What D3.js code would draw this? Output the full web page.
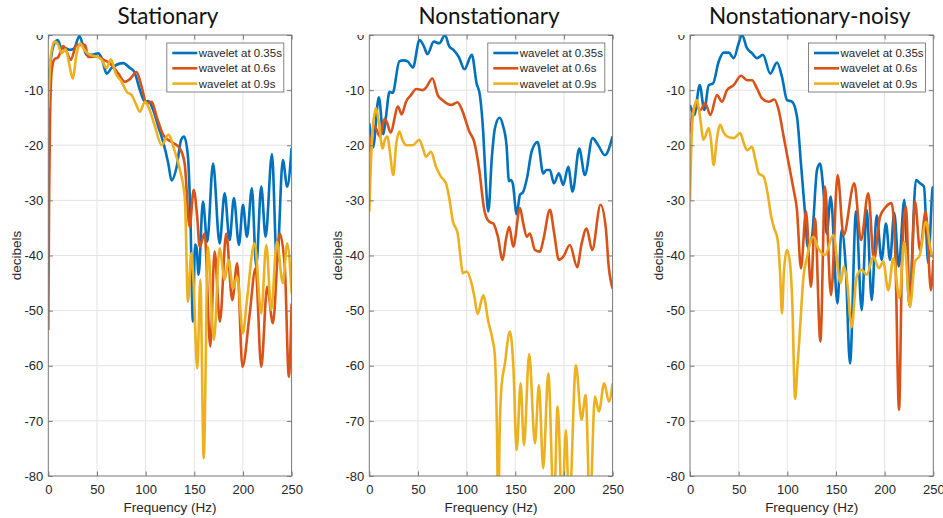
<!DOCTYPE html>
<html>
<head>
<meta charset="utf-8">
<script src="https://cdn.jsdelivr.net/npm/d3@7"></script>
<style>
  body { margin: 0; background: #fff; }
  svg { display: block; }
</style>
</head>
<body>
<div id="chart"></div>
<script>
// values: [frequency Hz, decibels]
const statBlue = [[0,-8.2],[5,-2.1],[9.6,-0.9],[13.7,-2.4],[17.8,-2.4],[22.3,-2.7],[26.7,-2.4],[31.9,-0.2],[36,-2.1],[39.4,-3.6],[44.6,-3.6],[51.4,-3.3],[54.8,-4.2],[60,-7],[65,-6],[77,-5.1],[83.9,-6],[88.4,-6.7],[94.2,-10],[99.3,-12.1],[102.7,-12],[107.8,-13.6],[113,-16.6],[118,-19.4],[123.3,-23.3],[126.7,-26.4],[131.9,-23.9],[136.5,-19],[139.5,-18.4],[143.5,-22],[146,-33],[148.6,-52],[150.8,-38],[152.3,-38.5],[154.4,-43.5],[158.9,-30.2],[163.3,-37.5],[169.3,-23.3],[176,-37.8],[181.2,-28.7],[186.3,-37.2],[190.7,-29.6],[195.9,-38.1],[200,-30.8],[204.1,-36.6],[209.2,-27.8],[213.6,-42],[218.8,-27.5],[223.3,-36.6],[229.8,-21.6],[234.9,-41.5],[241,-22.7],[245.5,-27.5],[250,-20.5]];
const statRed = [[0,-53.5],[0.8,-30],[1.8,-15],[3.5,-6.5],[6.2,-4.4],[10.3,-4.0],[15.4,-2.0],[18.8,-3],[23,-4.5],[29.2,-1.8],[37.7,-1.8],[41,-4],[49.7,-3.9],[57,-4.5],[65,-5.4],[71.9,-7],[78.8,-8.5],[83.9,-8],[90.8,-6.7],[95.9,-9.4],[101,-12.4],[106.2,-12.1],[111.3,-14.8],[118.1,-18.1],[123,-19],[128.4,-19.6],[135.3,-20.6],[140.1,-23.3],[145.2,-34.8],[149.4,-28.1],[153,-33],[155.5,-38.4],[160.6,-36],[166.4,-56.5],[170.9,-39.3],[176.3,-52],[182.8,-36],[189,-48.1],[194.1,-41.4],[199.5,-60.2],[206.8,-50.8],[213,-42.3],[218.8,-60.2],[224.9,-45.7],[230.8,-52.3],[237.7,-36],[243,-42],[247.2,-62],[250,-48.7]];
const statYellow = [[0,-13.3],[2.5,-4],[6.2,-1.2],[10.3,-1.8],[13.7,-3.3],[17.8,-2.6],[21.3,-5.1],[25,-7.9],[29.2,-3.3],[32.6,-1.5],[37,-2.7],[42.8,-3.6],[49.7,-3.9],[54.8,-4.5],[60,-6],[64.4,-4.4],[69.2,-7],[75.4,-8.5],[80.5,-10.3],[85.6,-10.9],[90,-12.5],[94.2,-13.9],[99.3,-12.1],[104,-13.5],[109.6,-16.6],[116.5,-20],[123.3,-18.1],[130.1,-21.2],[135.3,-24.5],[140.4,-29.9],[143.5,-48.4],[146.9,-39.6],[149,-44],[153.1,-60.5],[156.2,-44.4],[159.7,-76.8],[164,-38.4],[170.2,-55.3],[176,-38.7],[181.2,-44.4],[185.3,-40.8],[189.7,-46],[194.1,-43.8],[200,-54.1],[204.1,-48.1],[212,-37.8],[218.8,-50.5],[224,-38.1],[229,-49.9],[234.9,-37.5],[241,-45],[245.5,-37.8],[250,-46.9]];

const nonBlue = [[0,-16],[3.8,-20.4],[9.8,-11.3],[14.4,-18],[17,-15],[20.8,-10.3],[24,-10.5],[30.8,-4.8],[35,-4.6],[39.4,-4.8],[44.8,-5.9],[51.6,-0.9],[56,-2],[59.8,-3.5],[66.2,-1.2],[71.9,-1.5],[77.8,0],[82,-2],[86.5,-2.7],[92,-4],[97.8,-6.2],[105.3,-3.6],[110.3,-8.8],[113.7,-11],[117.1,-17.8],[119.5,-26],[122.3,-32],[126,-22],[129,-17],[133.8,-15],[137.5,-16.5],[141,-20],[143.5,-26.5],[145.5,-26.3],[147.5,-27],[151.4,-32.5],[154.8,-29],[158,-28.5],[162,-26],[167,-21],[173,-19.4],[178.7,-25.1],[182,-24.5],[185.6,-24.5],[189.7,-26.9],[194.8,-25.1],[199.3,-27.2],[204.4,-23.9],[208.9,-28.4],[215.7,-20.6],[221.5,-25.4],[229.4,-18.7],[235.2,-20],[242.1,-21.8],[250,-18.4]];
const nonRed = [[0,-21.2],[5.5,-16.6],[11,-18.4],[15.8,-15.2],[18.5,-16],[21.8,-17.7],[29.5,-13],[33.3,-14.4],[37.7,-12.1],[42.8,-10.9],[48.4,-9.8],[54.8,-10],[58,-9.6],[64.8,-7.9],[70.3,-10.9],[75,-11.8],[84.3,-12.7],[90.6,-12.2],[95.9,-13.9],[102.7,-17.5],[107.8,-19.4],[113,-24.5],[118.1,-31.7],[123.3,-33.9],[127.4,-34.2],[132,-36.5],[137,-40.8],[140.5,-37],[143.8,-34.8],[147.9,-38.4],[154.8,-31.4],[158,-34],[161.7,-36.6],[165,-36],[170.2,-39],[175.3,-39.3],[179,-37],[185.6,-31.7],[190,-36],[194.8,-40.8],[199.3,-40.2],[206.1,-38.1],[213.6,-42.1],[218,-38],[223.3,-35.1],[229,-39],[237.6,-30.8],[243,-35],[246,-42],[250,-46]];
const nonYellow = [[0,-32],[1.5,-24],[3.5,-17],[6.9,-13.3],[9.5,-15.5],[13.7,-20.6],[16,-19],[18.8,-18.4],[21,-21],[24.7,-25.4],[27.5,-20],[30.8,-17.5],[34,-19],[37.7,-20],[44.6,-20],[51.4,-19],[55,-20.5],[58.2,-22.1],[63.4,-21.2],[68.5,-23.9],[73.6,-25.7],[78.8,-26.9],[82.5,-30],[85.6,-33.6],[90.8,-36],[93.5,-40],[95.9,-43.2],[100,-42.9],[105,-45],[108,-47.5],[111.3,-50.6],[117.1,-47.2],[122.3,-52],[126.7,-55.3],[129,-58],[131,-70],[132.5,-86],[134.2,-70],[136,-63.5],[139,-60],[144.5,-53.8],[148,-60],[151.4,-75.3],[155.5,-63.2],[158.9,-74.4],[164.3,-57.9],[170.2,-74.1],[174.3,-63.5],[178.7,-78.6],[183.9,-61.4],[189.7,-86],[193.5,-67.4],[198.2,-86],[202,-71.7],[205.4,-86],[212.3,-59.9],[218.1,-69.8],[222.3,-65.3],[226.7,-86],[231.8,-65.6],[235.9,-68.3],[241.4,-63.2],[246.2,-66.5],[250,-63.2]];

const noisyBlue = [[0,-12.7],[4.4,-14.5],[10,-9.1],[14.7,-13.6],[19.2,-9.1],[23.6,-8.8],[29.5,-4.8],[34.6,-3.2],[39.8,-3.2],[44.9,-4.2],[50,-1.5],[53.4,0],[58.6,-2.4],[63.7,-3.3],[68.8,-4.2],[75,-3.6],[82.5,-7],[89.4,-5],[94.5,-7.6],[99.7,-11.8],[104.8,-12.1],[109.9,-14.8],[114,-23.3],[118.5,-33],[120.9,-38.4],[125.3,-36.6],[130.5,-24.5],[133.6,-23.3],[137,-28],[140.5,-36],[144.6,-29.3],[151.5,-48.7],[155.8,-35.4],[160,-42],[164.4,-59.6],[170.6,-32],[176.4,-49.9],[181.6,-31.7],[186.7,-48.1],[191.8,-32.7],[196.9,-40.8],[201.4,-34.2],[205.5,-40.8],[209.9,-32.3],[214.5,-42],[220.2,-29.9],[225.3,-49],[232.2,-26.3],[236.3,-26.9],[240.4,-27.5],[244.8,-41.4],[249.3,-27.8],[250,-27.5]];
const noisyRed = [[0,-17.8],[5.4,-12.7],[10.6,-13.6],[15.7,-12.4],[20.9,-14.5],[27.7,-10.9],[32.9,-12.1],[38,-10],[44.9,-9.1],[52.4,-7.4],[58.6,-8.2],[63.7,-8.2],[68.8,-9.7],[74,-11.5],[80.9,-12.1],[86.6,-11.7],[91.1,-13.6],[96.2,-18.4],[101.4,-23.3],[106.5,-28.1],[109.9,-31.7],[114,-42.3],[119.2,-32],[124.3,-45.7],[128.4,-33.3],[134,-55.6],[138.7,-27.5],[144.9,-47.2],[151.7,-25.4],[157.8,-36.3],[168.8,-26.9],[175.7,-37.2],[183.2,-28.7],[189,-40.8],[195.2,-33],[200.3,-31.4],[207.2,-30.5],[211,-40],[214.8,-68],[218,-40],[221.9,-31.1],[226,-49.3],[231.2,-30.2],[236.3,-39],[242.2,-32],[247.6,-46.3],[250,-40.8]];
const noisyYellow = [[0,-29.9],[2,-17.2],[4.5,-13],[7.2,-11.8],[10,-14.5],[14,-19],[19.2,-16.9],[21.5,-19],[24.3,-23.6],[27.5,-19],[31.1,-16.3],[34,-17.5],[38,-18.4],[44.9,-18.7],[51.7,-17.8],[55,-19.5],[58.6,-20.9],[63.7,-20.3],[67,-22.5],[70.6,-25.1],[75.7,-25.7],[80,-29],[83,-32.5],[86,-34.8],[90.1,-37.2],[92.5,-43],[94.5,-50.5],[96.5,-43],[99.5,-39],[102.5,-41],[105,-48],[108,-66],[110.5,-60],[113,-53.5],[116.5,-44],[120,-40.5],[126.7,-36.6],[131.8,-38.7],[138.7,-39.9],[147.2,-36.3],[154.8,-45],[158,-42],[161,-44],[166.1,-53],[171.3,-43.8],[176.4,-42.6],[181.6,-43.5],[188.3,-40.2],[194.2,-42.3],[198.6,-41.1],[203.7,-46.3],[208.9,-40.5],[215.1,-47.7],[220.2,-37.5],[226,-49.3],[231.2,-41.1],[236,-40],[242.5,-33.9],[247.3,-39],[250,-40.5]];

const titles = ["Stationary", "Nonstationary", "Nonstationary-noisy"];
const seriesNames = ["wavelet at 0.35s", "wavelet at 0.6s", "wavelet at 0.9s"];
const colors = ["#0072BD", "#D95319", "#EDB120"];
const xTicks = [0, 50, 100, 150, 200, 250];
const yTicks = [0, -10, -20, -30, -40, -50, -60, -70, -80];

const panels = [
  { title: titles[0], series: [statBlue, statRed, statYellow] },
  { title: titles[1], series: [nonBlue, nonRed, nonYellow] },
  { title: titles[2], series: [noisyBlue, noisyRed, noisyYellow] }
];

var W = 943, H = 518,
  panelLeft = [48.3, 369.3, 690],
  plotTop = 35,
  pw = 243.3,
  ph = 441;

var svg = d3.select("#chart").append("svg")
  .attr("width", W)
  .attr("height", H);

var x = d3.scaleLinear().domain([0, 250]).range([0, pw]);
var y = d3.scaleLinear().domain([-80, 0]).range([ph, 0]);
var line = d3.line()
  .x(d => x(d[0]))
  .y(d => y(d[1]))
  .curve(d3.curveMonotoneX);

// layers: under the white title band, the band, above it
var base = svg.append("g");
var band = svg.append("rect").attr("x", 0).attr("y", 0).attr("width", W).attr("height", plotTop).attr("fill", "#fff");
var over = svg.append("g");

panels.forEach((p, i) => {
  var g = base.append("g").attr("transform", `translate(${panelLeft[i]},${plotTop})`);

  g.append("clipPath").attr("id", "clip" + i)
    .append("rect").attr("width", pw).attr("height", ph);

  // grid
  g.append("g").selectAll("line").data(xTicks.slice(1, -1)).enter().append("line")
    .attr("x1", d => x(d)).attr("x2", d => x(d)).attr("y1", 0).attr("y2", ph)
    .attr("stroke", "#e3e3e3").attr("stroke-width", 1);
  g.append("g").selectAll("line").data(yTicks.slice(1, -1)).enter().append("line")
    .attr("y1", d => y(d)).attr("y2", d => y(d)).attr("x1", 0).attr("x2", pw)
    .attr("stroke", "#e3e3e3").attr("stroke-width", 1);

  // curves
  g.append("g").attr("clip-path", `url(#clip${i})`)
    .selectAll("path").data(p.series).enter().append("path")
    .attr("d", line)
    .attr("fill", "none")
    .attr("stroke", (d, k) => colors[k])
    .attr("stroke-width", 2.6)
    .attr("stroke-linejoin", "round");

  // axes, ticks pointing inward
  var axL = g.append("g").call(d3.axisLeft(y).tickValues(yTicks).tickSizeInner(-4.5).tickSizeOuter(0).tickPadding(5).tickFormat(d => String(d)));
  var axB = g.append("g").attr("transform", `translate(0,${ph})`)
    .call(d3.axisBottom(x).tickValues(xTicks).tickSizeInner(-4.5).tickSizeOuter(0).tickPadding(8.5).tickFormat(d => String(d)));
  var axR = g.append("g").attr("transform", `translate(${pw},0)`)
    .call(d3.axisRight(y).tickValues(yTicks).tickSizeInner(-4.5).tickSizeOuter(0).tickFormat(""));
  var axT = g.append("g")
    .call(d3.axisTop(x).tickValues(xTicks).tickSizeInner(-4.5).tickSizeOuter(0).tickFormat(""));
  [axL, axB, axR, axT].forEach(a => {
    a.select(".domain").remove();
    a.selectAll(".tick line").attr("stroke", "#777");
    a.selectAll("text").attr("fill", "#262626")
      .style("font-family", "'Liberation Sans', Arial, sans-serif")
      .style("font-size", "13px");
  });

  // axis labels
  g.append("text")
    .attr("x", pw / 2).attr("y", ph + 36)
    .attr("text-anchor", "middle")
    .attr("fill", "#262626")
    .style("font-family", "'Liberation Sans', Arial, sans-serif")
    .style("font-size", "13.5px")
    .text("Frequency (Hz)");
  g.append("text")
    .attr("transform", `translate(-27,${ph / 2}) rotate(-90)`)
    .attr("text-anchor", "middle")
    .attr("fill", "#262626")
    .style("font-family", "'Liberation Sans', Arial, sans-serif")
    .style("font-size", "13.5px")
    .text("decibels");

  // frame, legend and title above the band
  var o = over.append("g").attr("transform", `translate(${panelLeft[i]},${plotTop})`);
  o.append("rect").attr("width", pw).attr("height", ph)
    .attr("fill", "none").attr("stroke", "#777").attr("stroke-width", 1);

  var lg = o.append("g").attr("transform", "translate(118.5,8)");
  lg.append("rect").attr("width", 117).attr("height", 49)
    .attr("fill", "#fff").attr("stroke", "#777").attr("stroke-width", 0.9);
  seriesNames.forEach((name, k) => {
    var ry = 10 + k * 15.3;
    lg.append("line").attr("x1", 5.5).attr("x2", 30.5).attr("y1", ry).attr("y2", ry)
      .attr("stroke", colors[k]).attr("stroke-width", 2.6);
    lg.append("text").attr("x", 32).attr("y", ry + 4)
      .attr("fill", "#262626")
      .style("font-family", "'Liberation Sans', Arial, sans-serif")
      .style("font-size", "11.5px")
      .text(name);
  });

  svg.append("text")
    .attr("x", panelLeft[i] + pw / 2 - 2).attr("y", 23.5)
    .attr("text-anchor", "middle")
    .attr("fill", "#111")
    .style("font-family", "Lato, 'Open Sans', sans-serif")
    .style("font-size", "22.5px")
    .text(p.title);
});
</script>
</body>
</html>
